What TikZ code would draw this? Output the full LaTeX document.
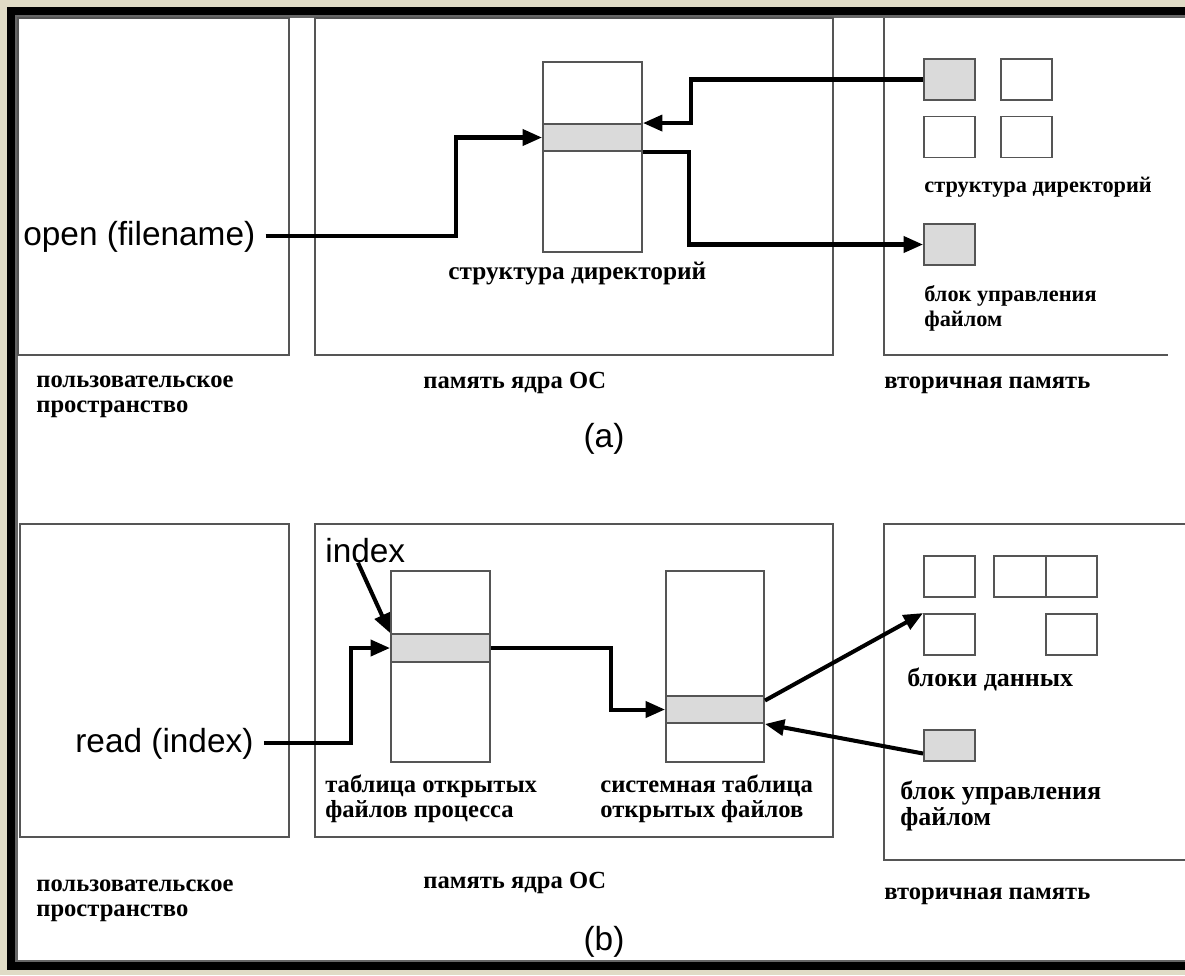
\documentclass[tikz,border=0pt]{standalone}
\usepackage{fontspec}
\setmainfont{Liberation Serif}
\setsansfont{Liberation Sans}
\usetikzlibrary{positioning,arrows.meta,calc}
\definecolor{frameBg}{HTML}{E0DBC6}
\definecolor{lineGray}{HTML}{555555}
\definecolor{cellGray}{HTML}{DADADA}
\tikzset{
	area/.style={draw=lineGray, line width=1.1pt},
	tbl/.style={draw=lineGray, line width=1.1pt, minimum width=1.98cm, inner sep=0pt},
	band/.style={tbl, fill=cellGray, minimum height=0.54cm},
	blk/.style={draw=lineGray, line width=1.1pt, minimum width=1.02cm, minimum height=0.82cm, inner sep=0pt},
	arr/.style={-{Triangle[length=11pt,width=9pt]}, line width=2.3pt},
	ru/.style={font=\fontsize{14}{14}\selectfont\bfseries, align=left, inner sep=0pt, anchor=base west},
	ruS/.style={ru, font=\fontsize{12.7}{14}\selectfont\bfseries},
	ruL/.style={ru, font=\fontsize{14.8}{14.5}\selectfont\bfseries},
	en/.style={font=\fontsize{19}{22}\selectfont\sffamily, inner sep=0pt, anchor=base west},
}
\begin{document}
\begin{tikzpicture}[x=0.02cm, y=-0.02cm]
		\useasboundingbox (0,0) rectangle (1185,975);
		% frame
		\fill[frameBg] (0,0) rectangle (1185,975);
		\fill[black] (7,7) rectangle (1185,970);
		\fill[black!60] (15,15) rectangle (1185,962);
		\fill[white] (18,18) rectangle (1185,960);
		% panel (a)
		\draw[area] (18,18) rectangle (289,355);
		\draw[area] (315,18) rectangle (833,355);
		\draw[area] (884,18) -- (884,355) -- (1168,355);
		\node[tbl, minimum height=3.8cm] (dirA) at (592.5,157) {};
		\node[band] (rowA) at (592.5,137.5) {};
		\node[blk, fill=cellGray] (dsA1) at (949.5,79.5) {};
		\node[blk] (dsA2) at (1026.5,79.5) {};
		\node[blk] (dsA3) at (949.5,137) {};
		\node[blk] (dsA4) at (1026.5,137) {};
		\node[blk, fill=cellGray] (fcbA) at (949.5,244.5) {};
		\node[en] (openA) at (23,245) {open (filename)};
		\node[ruS] (dirLblA) at (924,192) {структура директорий};
		\node[ru, font=\fontsize{14.4}{16}\selectfont\bfseries] (dirLblB) at (448,279) {структура директорий};
		\node[ruS] (fcbLblA) at (924,326) {блок управления\\файлом};
		\node[ru] (userLblA) at (36,412) {пользовательское\\пространство};
		\node[ru] (kernLblA) at (423,388) {память ядра ОС};
		\node[ru] (secLblA) at (884,388) {вторичная память};
		\node[en, anchor=base] (capA) at (604,447) {(a)};
		\draw[arr, shorten <=0.2cm] (openA.east) -| ($(rowA.west)+(-86,0)$) -- (rowA.west);
		\draw[arr] (dsA1.west) -| ($(rowA.north east)+(48,0)$) -- (rowA.north east);
		\draw[arr] (rowA.south east) -| ($(fcbA.west)+(-234,0)$) -- (fcbA.west);
		% panel (b)
		\draw[area] (20,524) rectangle (289,837);
		\draw[area] (315,524) rectangle (833,837);
		\draw[area] (1185,524) -- (884,524) -- (884,860) -- (1185,860);
		\node[tbl, minimum height=3.82cm] (oftB) at (440.5,666.5) {};
		\node[band, minimum height=0.56cm] (rowB1) at (440.5,648) {};
		\node[tbl, minimum width=1.96cm, minimum height=3.82cm] (sftB) at (715,666.5) {};
		\node[band, minimum width=1.96cm] (rowB2) at (715,709.5) {};
		\node[blk] (dbB1) at (949.5,576.5) {};
		\node[blk, minimum width=1.04cm] (dbB2) at (1020,576.5) {};
		\node[blk] (dbB3) at (1071.5,576.5) {};
		\node[blk] (dbB4) at (949.5,634.5) {};
		\node[blk] (dbB5) at (1071.5,634.5) {};
		\node[blk, fill=cellGray, minimum height=0.62cm] (fcbB) at (949.5,745.5) {};
		\node[en] (readB) at (75,752) {read (index)};
		\node[en] (idx) at (325,562) {index};
		\node[ru] (oftLbl) at (325,817) {таблица открытых\\файлов процесса};
		\node[ru] (sftLbl) at (600,817) {системная таблица\\открытых файлов};
		\node[ruL] (dataLbl) at (907,686) {блоки данных};
		\node[ruL] (fcbLblB) at (900,825) {блок управления\\файлом};
		\node[ru] (userLblB) at (36,916) {пользовательское\\пространство};
		\node[ru] (kernLblB) at (423,888) {память ядра ОС};
		\node[ru] (secLblB) at (884,899) {вторичная память};
		\node[en, anchor=base] (capB) at (604,950) {(b)};
		\draw[arr, shorten <=0.2cm] (readB.east) -| ($(rowB1.west)+(-39,0)$) -- (rowB1.west);
		\draw[arr] (idx.240) -- (rowB1.north west);
		\draw[arr] (rowB1.east) -| ($(rowB2.west)+(-54,0)$) -- (rowB2.west);
		\draw[arr] ($(rowB2.east)+(0,-9)$) -- (dbB4.north west);
		\draw[arr] ($(fcbB.west)+(0,8)$) -- (rowB2.south east);
\end{tikzpicture}
\end{document}
